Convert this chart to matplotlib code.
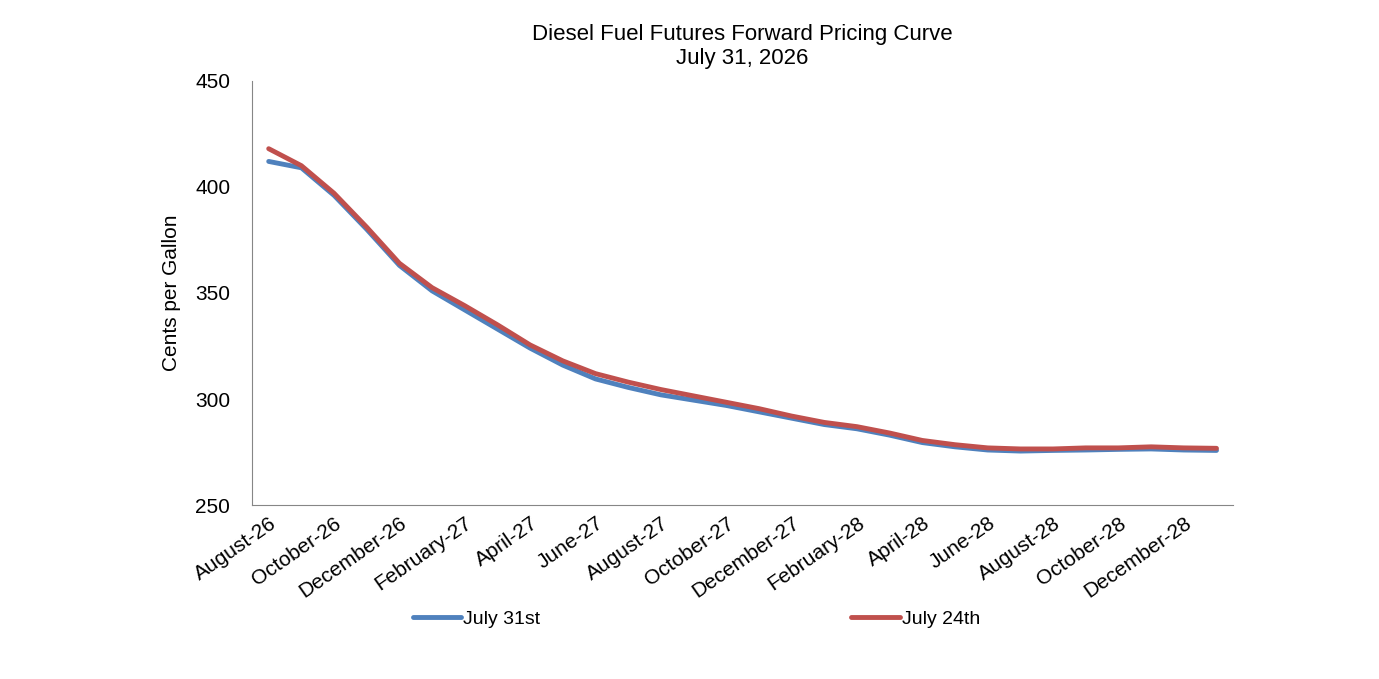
import matplotlib
matplotlib.use("Agg")
import matplotlib.pyplot as plt

plt.rcParams['font.family'] = ['Liberation Sans', 'DejaVu Sans']

months = ["August-26","September-26","October-26","November-26","December-26","January-27",
          "February-27","March-27","April-27","May-27","June-27","July-27","August-27",
          "September-27","October-27","November-27","December-27","January-28","February-28",
          "March-28","April-28","May-28","June-28","July-28","August-28","September-28",
          "October-28","November-28","December-28","January-29"]
july31 = [412,409,396,380,363,351,342,333,324,316,309.5,305.5,302,299.5,297,294,291,288,286,283,
          279.5,277.5,276,275.5,275.8,276,276.3,276.5,276,275.8]
july24 = [418,410,397,381,364,352.5,344,335,325.5,318,312,308,304.5,301.5,298.5,295.5,292,289,287,284,
          280.5,278.5,277,276.5,276.5,277,277,277.5,277,276.8]

fig = plt.figure(figsize=(13.79, 6.79), dpi=100)
ax = fig.add_axes([0.183, 0.256, 0.711, 0.625])
x = list(range(len(months)))
ax.plot(x, july31, color='#4F81BD', lw=3.5, label='July 31st', solid_capstyle='round')
ax.plot(x, july24, color='#C0504D', lw=3.5, label='July 24th', solid_capstyle='round')
ax.set_xlim(-0.5, len(months) - 0.5)
ax.set_ylim(250, 450)
ax.set_yticks([250, 300, 350, 400, 450])
ax.set_xticks(x[::2])
ax.set_xticklabels(months[::2], rotation=35, ha='right', rotation_mode='anchor', fontsize=15)
ax.tick_params(axis='y', labelsize=15, length=0, pad=16)
ax.tick_params(axis='x', length=0, pad=6)
for s in ['top', 'right']:
    ax.spines[s].set_visible(False)
for s in ['left', 'bottom']:
    ax.spines[s].set_color('#868686')
ax.set_ylabel('Cents per Gallon', fontsize=15, labelpad=10)
ax.set_title('Diesel Fuel Futures Forward Pricing Curve\nJuly 31, 2026', fontsize=16, pad=12)
fig.legend(loc='lower center', bbox_to_anchor=(0.505, 0.05), ncol=2, frameon=False,
           fontsize=14, columnspacing=16, handlelength=2.5, handletextpad=0.1)
fig.savefig('out.png', dpi=100)
